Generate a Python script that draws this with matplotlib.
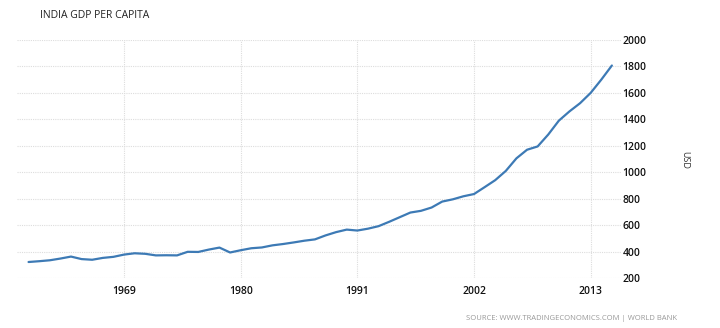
import matplotlib
matplotlib.use("Agg")
import matplotlib.pyplot as plt

years = list(range(1960, 2016))
gdp_per_capita = [
    321, 327, 334, 347, 362, 343, 338, 352, 360, 377,
    387, 383, 371, 372, 371, 398, 397, 415, 430, 393,
    410, 425, 431, 447, 457, 469, 482, 492, 522, 547,
    566, 559, 573, 592, 625, 660, 695, 708, 733, 778,
    795, 818, 835, 887, 940, 1010, 1105, 1170, 1195, 1285,
    1390, 1460, 1522, 1600, 1700, 1807,
]
x_ticks = [1969, 1980, 1991, 2002, 2013]
y_ticks = [200, 400, 600, 800, 1000, 1200, 1400, 1600, 1800, 2000]

plt.rcParams['font.family'] = ['Open Sans', 'DejaVu Sans']

fig = plt.figure(figsize=(7.2, 3.28), dpi=100)
ax = fig.add_axes([17/720, 1-278/328, (621-17)/720, (278-40)/328])

ax.plot(years, gdp_per_capita, color='#3d7ab5', linewidth=1.6, solid_capstyle='round')

ax.set_xlim(1958.91, 2015.86)
ax.set_ylim(200, 2000)
ax.set_xticks(x_ticks)
ax.set_yticks(y_ticks)
ax.yaxis.tick_right()
ax.tick_params(axis='both', length=0, labelsize=7.5, colors='#111111')
ax.tick_params(axis='x', pad=6)
ax.tick_params(axis='y', pad=1)
for lbl in ax.get_xticklabels() + ax.get_yticklabels():
    lbl.set_fontweight('semibold')
for s in ax.spines.values():
    s.set_visible(False)
ax.grid(True, color='#dddddd', linestyle=(0, (1, 1)), linewidth=0.8)
ax.set_axisbelow(True)

fig.text(685/720, 1-160/328, 'USD', rotation=270, ha='center', va='center',
         fontsize=6.5, color='#333333')
fig.text(40/720, 1-15/328, 'INDIA GDP PER CAPITA', ha='left', va='center',
         fontsize=7.5, color='#222222')
fig.text(466/720, 1-318/328, 'SOURCE: WWW.TRADINGECONOMICS.COM | WORLD BANK',
         ha='left', va='center', fontsize=5.5, color='#999999')

fig.savefig('out.png', dpi=100, facecolor='white')
